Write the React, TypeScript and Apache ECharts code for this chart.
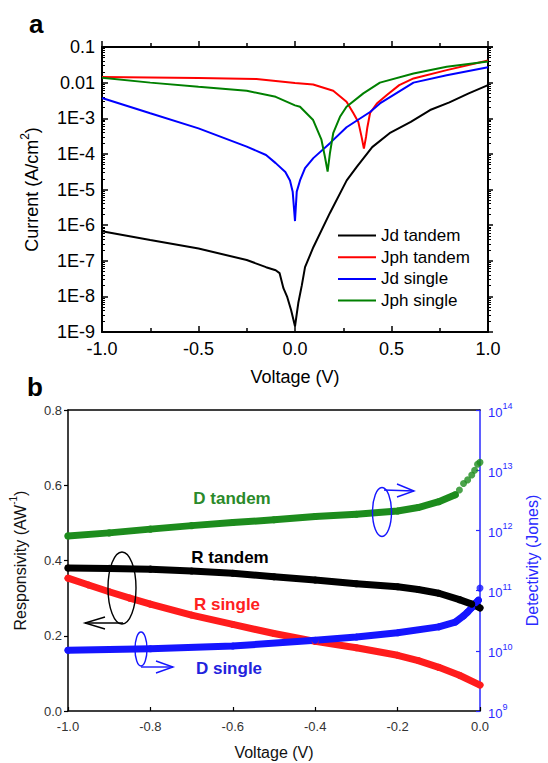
import React, { useEffect, useRef } from 'react';
import * as echarts from 'echarts';

const FONT = '"Liberation Sans", Arial, Helvetica, sans-serif';

// ---------- Panel a : current density (A/cm^2) vs voltage ----------
const topYTickLabels = ['1E-9', '1E-8', '1E-7', '1E-6', '1E-5', '1E-4', '1E-3', '0.01', '0.1'];
const legendNames = ['Jd tandem', 'Jph tandem', 'Jd single', 'Jph single'];

const jdTandemV = [-1.0, -0.75, -0.5, -0.25, -0.15, -0.1, -0.08, -0.06, -0.04, -0.02, 0, 0.017, 0.035, 0.052, 0.095, 0.181, 0.268, 0.32, 0.4, 0.49, 0.6, 0.7, 0.8, 0.9, 1.0];
const jdTandemJ = [6.7e-7, 3.8e-7, 2.2e-7, 1.05e-7, 6.6e-8, 5.4e-8, 4.5e-8, 1.7e-8, 9.5e-9, 4.1e-9, 1.45e-9, 6.5e-9, 2.0e-8, 6.6e-8, 2.4e-7, 2.2e-6, 1.8e-5, 4.3e-5, 1.55e-4, 3.8e-4, 7.9e-4, 1.7e-3, 2.8e-3, 5.0e-3, 8.5e-3];

const jphTandemV = [-1.0, -0.5, -0.2, 0, 0.094, 0.198, 0.267, 0.302, 0.328, 0.345, 0.357, 0.368, 0.375, 0.389, 0.424, 0.476, 0.54, 0.614, 0.786, 1.0];
const jphTandemJ = [0.0145, 0.0135, 0.0126, 0.0098, 8.9e-3, 5.9e-3, 2.9e-3, 1.4e-3, 7.9e-4, 3.0e-4, 1.4e-4, 3.0e-4, 5.6e-4, 1.4e-3, 2.6e-3, 4.5e-3, 8.5e-3, 0.0131, 0.0224, 0.042];

const jdSingleV = [-1.0, -0.75, -0.5, -0.25, -0.15, -0.1, -0.05, -0.026, -0.012, 0, 0.009, 0.026, 0.052, 0.095, 0.181, 0.267, 0.389, 0.44, 0.614, 0.786, 1.0];
const jdSingleJ = [3.7e-3, 1.38e-3, 5.2e-4, 1.6e-4, 9.3e-5, 5.5e-5, 3.1e-5, 1.8e-5, 8.7e-6, 1.3e-6, 8.7e-6, 1.8e-5, 4.0e-5, 7.6e-5, 2.0e-4, 5.6e-4, 1.5e-3, 2.6e-3, 0.0100, 0.0162, 0.027];

const jphSingleV = [-1.0, -0.75, -0.5, -0.25, -0.1, 0, 0.026, 0.094, 0.137, 0.155, 0.169, 0.181, 0.198, 0.233, 0.267, 0.354, 0.44, 0.614, 0.786, 1.0];
const jphSingleJ = [0.0138, 0.0100, 7.6e-3, 5.9e-3, 4.0e-3, 2.3e-3, 2.1e-3, 8.9e-4, 2.5e-4, 8.3e-5, 3.2e-5, 1.05e-4, 3.8e-4, 1.1e-3, 2.1e-3, 5.0e-3, 0.0100, 0.018, 0.028, 0.039];

// ---------- Panel b : responsivity (A/W) and detectivity (Jones) ----------
const rTandemV = [-1.0, -0.9, -0.8, -0.7, -0.6, -0.5, -0.4, -0.3, -0.2, -0.15, -0.1, -0.05, -0.02, 0];
const rTandem = [0.380, 0.379, 0.377, 0.372, 0.366, 0.357, 0.348, 0.338, 0.330, 0.323, 0.313, 0.296, 0.284, 0.274];

const rSingleV = [-1.0, -0.95, -0.9, -0.85, -0.8, -0.7, -0.6, -0.5, -0.4, -0.3, -0.2, -0.15, -0.1, -0.05, 0];
const rSingle = [0.353, 0.335, 0.317, 0.300, 0.284, 0.255, 0.230, 0.206, 0.185, 0.168, 0.148, 0.134, 0.116, 0.095, 0.069];

const dTandemV = [-1.0, -0.9, -0.8, -0.7, -0.6, -0.5, -0.4, -0.3, -0.2, -0.15, -0.1, -0.06];
const dTandem = [8.1e11, 9.1e11, 1.05e12, 1.2e12, 1.35e12, 1.5e12, 1.7e12, 1.86e12, 2.1e12, 2.4e12, 3.0e12, 3.9e12];
const dTandemTailV = [-0.05, -0.04, -0.03, -0.02, -0.013, -0.006, 0];
const dTandemTail = [4.7e12, 6.0e12, 6.9e12, 8.3e12, 1.0e13, 1.26e13, 1.35e13];

const dSingleV = [-1.0, -0.8, -0.6, -0.4, -0.3, -0.2, -0.1, -0.06, -0.04, -0.03, -0.02, -0.01, -0.004];
const dSingle = [1.02e10, 1.08e10, 1.2e10, 1.5e10, 1.7e10, 2.0e10, 2.5e10, 3.0e10, 3.8e10, 4.4e10, 5.2e10, 6.3e10, 6.9e10];
const dSingleTailV = [0];
const dSingleTail = [1.1e11];

const zip = (xs: number[], ys: number[]) => xs.map((x, i) => [x, ys[i]]);

const GREEN_B = '#1d8c1d';
const BLUE_B = '#1515ff';
const RED_B = '#ff1c1c';
const AXBLUE = '#2a2aff';

function buildOption(): any {
  const thinLine = (name: string, v: number[], j: number[], color: string) => ({
    name,
    type: 'line',
    xAxisIndex: 0,
    yAxisIndex: 0,
    data: zip(v, j),
    symbol: 'none',
    showSymbol: false,
    lineStyle: { color, width: 2 },
    itemStyle: { color },
    z: 3,
  });
  const band = (v: number[], y: number[], color: string, yAxisIndex: number) => ({
    type: 'line',
    xAxisIndex: 2,
    yAxisIndex,
    data: zip(v, y),
    symbol: 'circle',
    symbolSize: 7,
    showSymbol: true,
    lineStyle: { color, width: 7, cap: 'round', join: 'round' },
    itemStyle: { color },
    z: 3,
  });
  const dots = (v: number[], y: number[], color: string, yAxisIndex: number) => ({
    type: 'scatter',
    xAxisIndex: 2,
    yAxisIndex,
    data: zip(v, y),
    symbol: 'circle',
    symbolSize: 7,
    itemStyle: { color },
    z: 4,
  });

  const txt = (text: string, x: number, y: number, color: string, size = 17, align = 'center') => ({
    type: 'text',
    x,
    y,
    z: 100,
    style: { text, fill: color, fontSize: size, fontWeight: 'bold', fontFamily: FONT, align, verticalAlign: 'middle' },
  });
  const ell = (cx: number, cy: number, rx: number, ry: number, color: string) => ({
    type: 'ellipse',
    z: 100,
    shape: { cx, cy, rx, ry },
    style: { fill: 'none', stroke: color, lineWidth: 1.4 },
  });
  const pl = (points: number[][], color: string) => ({
    type: 'polyline',
    z: 100,
    shape: { points },
    style: { fill: 'none', stroke: color, lineWidth: 1.4 },
  });

  return {
    animation: false,
    backgroundColor: '#fff',
    textStyle: { fontFamily: FONT },
    grid: [
      { left: 102, top: 47, width: 386, height: 285 },
      { left: 66, top: 410, width: 420, height: 301 },
    ],
    legend: {
      data: legendNames,
      left: 333,
      top: 222,
      orient: 'vertical',
      icon: 'rect',
      itemWidth: 38,
      itemHeight: 2,
      itemGap: 4.7,
      textStyle: { fontSize: 17, color: '#000', fontFamily: FONT },
    },
    xAxis: [
      {
        gridIndex: 0, type: 'value', min: -1, max: 1, interval: 0.5, position: 'bottom',
        axisLine: { onZero: false, lineStyle: { color: '#000', width: 2 } },
        axisTick: { inside: true, length: 6, lineStyle: { color: '#000', width: 1.5 } },
        minorTick: { show: true, splitNumber: 2, length: 4, lineStyle: { color: '#000', width: 1.5 } },
        splitLine: { show: false },
        axisLabel: { fontSize: 18, color: '#000', margin: 8, fontFamily: FONT, formatter: (v: number) => v.toFixed(1) },
        name: 'Voltage (V)', nameLocation: 'middle', nameGap: 36,
        nameTextStyle: { fontSize: 18, color: '#000', fontFamily: FONT },
      },
      {
        gridIndex: 0, type: 'value', min: -1, max: 1, interval: 0.5, position: 'top',
        axisLine: { onZero: false, lineStyle: { color: '#000', width: 2 } },
        axisTick: { inside: false, length: 6, lineStyle: { color: '#000', width: 1.5 } },
        minorTick: { show: true, splitNumber: 2, length: 4, lineStyle: { color: '#000', width: 1.5 } },
        splitLine: { show: false },
        axisLabel: { show: false },
      },
      {
        gridIndex: 1, type: 'value', min: -1, max: 0, interval: 0.2, position: 'bottom',
        axisLine: { onZero: false, lineStyle: { color: '#000', width: 1.5 } },
        axisTick: { inside: true, length: 4, lineStyle: { color: '#000', width: 1.2 } },
        splitLine: { show: false },
        axisLabel: { fontSize: 13, color: '#333', margin: 9, fontFamily: FONT, formatter: (v: number) => v.toFixed(1) },
        name: 'Voltage (V)', nameLocation: 'middle', nameGap: 33,
        nameTextStyle: { fontSize: 16, color: '#111', fontFamily: FONT },
      },
      {
        gridIndex: 1, type: 'value', min: -1, max: 0, position: 'top',
        axisLine: { onZero: false, lineStyle: { color: '#000', width: 1.5 } },
        axisTick: { show: false },
        splitLine: { show: false },
        axisLabel: { show: false },
      },
    ],
    yAxis: [
      {
        gridIndex: 0, type: 'log', logBase: 10, min: 1e-9, max: 0.1, position: 'left',
        axisLine: { show: true, onZero: false, lineStyle: { color: '#000', width: 2 } },
        axisTick: { show: true, inside: true, length: 6, lineStyle: { color: '#000', width: 1.5 } },
        minorTick: { show: true, splitNumber: 9, length: 3, lineStyle: { color: '#000', width: 1 } },
        splitLine: { show: false },
        axisLabel: {
          fontSize: 18, color: '#000', margin: 7, fontFamily: FONT,
          formatter: (v: number) => topYTickLabels[Math.round(Math.log10(v)) + 9],
        },
        name: '{n|Current (A/cm}{s|2}{n|)}', nameLocation: 'middle', nameRotate: 90, nameGap: 61,
        nameTextStyle: {
          rich: {
            n: { fontSize: 18, color: '#000', fontFamily: FONT, lineHeight: 22, verticalAlign: 'bottom' },
            s: { fontSize: 12, color: '#000', fontFamily: FONT, lineHeight: 22, verticalAlign: 'top' },
          },
        },
      },
      {
        gridIndex: 0, type: 'log', logBase: 10, min: 1e-9, max: 0.1, position: 'right',
        axisLine: { show: true, onZero: false, lineStyle: { color: '#000', width: 2 } },
        axisTick: { show: true, inside: false, length: 5, lineStyle: { color: '#000', width: 1.5 } },
        minorTick: { show: true, splitNumber: 9, length: 3, lineStyle: { color: '#000', width: 1 } },
        splitLine: { show: false },
        axisLabel: { show: false },
      },
      {
        gridIndex: 1, type: 'value', min: 0, max: 0.8, interval: 0.2, position: 'left',
        axisLine: { show: true, onZero: false, lineStyle: { color: '#000', width: 1.5 } },
        axisTick: { show: true, inside: false, length: 4, lineStyle: { color: '#000', width: 1.2 } },
        splitLine: { show: false },
        axisLabel: { fontSize: 13, color: '#333', margin: 6, fontFamily: FONT, formatter: (v: number) => v.toFixed(1) },
        name: '{n|Responsivity (AW}{s|-1}{n|)}', nameLocation: 'middle', nameRotate: 90, nameGap: 40,
        nameTextStyle: {
          rich: {
            n: { fontSize: 16, color: '#111', fontFamily: FONT, lineHeight: 20, verticalAlign: 'bottom' },
            s: { fontSize: 10, color: '#111', fontFamily: FONT, lineHeight: 20, verticalAlign: 'top' },
          },
        },
      },
      {
        gridIndex: 1, type: 'log', logBase: 10, min: 1e9, max: 1e14, position: 'right',
        axisLine: { show: true, onZero: false, lineStyle: { color: AXBLUE, width: 1.5 } },
        axisTick: { show: true, inside: true, length: 4, lineStyle: { color: AXBLUE, width: 1.2 } },
        splitLine: { show: false },
        axisLabel: {
          margin: 8,
          formatter: (v: number) => '{b|10}{s|' + Math.round(Math.log10(v)) + '}',
          rich: {
            b: { fontSize: 13, color: AXBLUE, fontFamily: FONT, lineHeight: 17, verticalAlign: 'bottom' },
            s: { fontSize: 9, color: AXBLUE, fontFamily: FONT, lineHeight: 17, verticalAlign: 'top' },
          },
        },
        name: 'Detectivity (Jones)', nameLocation: 'middle', nameRotate: 90, nameGap: 44,
        nameTextStyle: { fontSize: 16, color: AXBLUE, fontFamily: FONT },
      },
    ],
    series: [
      thinLine('Jd tandem', jdTandemV, jdTandemJ, '#000000'),
      thinLine('Jph tandem', jphTandemV, jphTandemJ, '#ff0000'),
      thinLine('Jd single', jdSingleV, jdSingleJ, '#0000ff'),
      thinLine('Jph single', jphSingleV, jphSingleJ, '#008000'),
      band(rSingleV, rSingle, RED_B, 2),
      band(dTandemV, dTandem, GREEN_B, 3),
      dots(dTandemTailV, dTandemTail, GREEN_B, 3),
      band(dSingleV, dSingle, BLUE_B, 3),
      dots(dSingleTailV, dSingleTail, BLUE_B, 3),
      band(rTandemV, rTandem, '#000000', 2),
    ],
    graphic: [
      { type: 'text', x: 29, y: 24, z: 100, style: { text: 'a', fontSize: 26, fontWeight: 'bold', fontFamily: FONT, fill: '#000', align: 'left', verticalAlign: 'middle' } },
      { type: 'text', x: 27, y: 387, z: 100, style: { text: 'b', fontSize: 26, fontWeight: 'bold', fontFamily: FONT, fill: '#000', align: 'left', verticalAlign: 'middle' } },
      txt('D tandem', 232, 498, '#2a8a2a'),
      txt('R tandem', 230, 557, '#000'),
      txt('R single', 227, 604, '#ff2020'),
      txt('D single', 229, 668, '#2222dd'),
      ell(122, 588, 14, 36, '#000'),
      pl([[123, 623], [85, 623]], '#000'),
      pl([[105, 617], [85, 623], [105, 629]], '#000'),
      ell(141, 649, 6, 17, BLUE_B),
      pl([[141, 667], [173, 667]], BLUE_B),
      pl([[156, 661], [173, 667], [156, 673]], BLUE_B),
      ell(382, 512, 9.5, 24.5, BLUE_B),
      pl([[384, 490], [414, 491]], BLUE_B),
      pl([[397, 484], [414, 491], [397, 497]], BLUE_B),
    ],
  };
}

export default function App() {
  const ref = useRef<HTMLDivElement>(null);
  useEffect(() => {
    if (!ref.current) return;
    const chart = echarts.init(ref.current, null, { renderer: 'svg' });
    chart.setOption(buildOption());
    return () => chart.dispose();
  }, []);
  return (
    <div
      ref={ref}
      style={{ position: 'absolute', left: 0, top: 0, width: 548, height: 763, background: '#fff' }}
    />
  );
}
